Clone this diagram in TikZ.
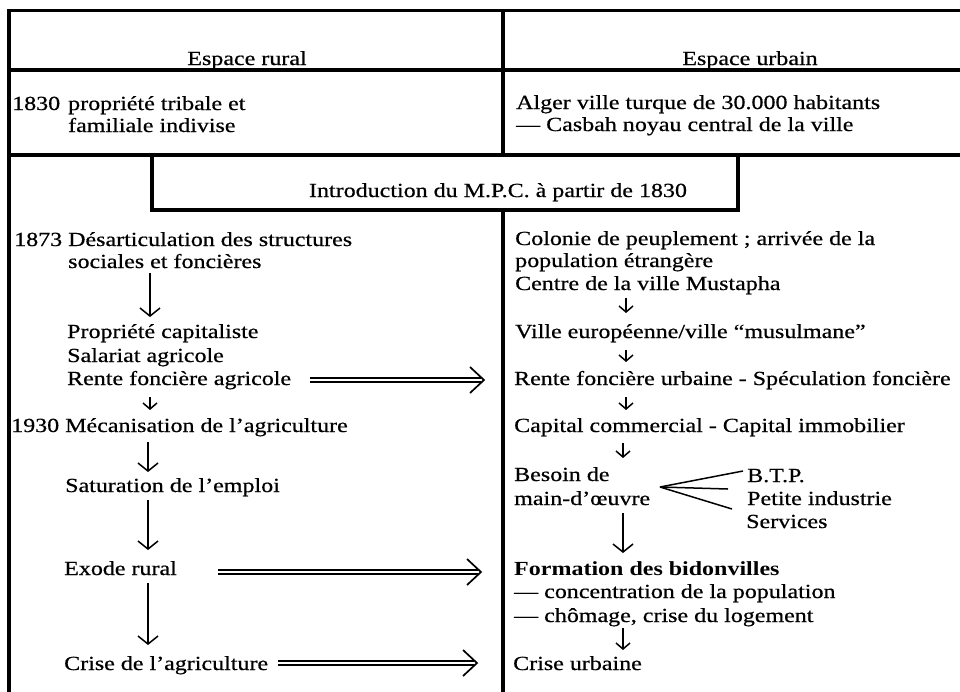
\documentclass[tikz,border=0pt]{standalone}
\usepackage{fontspec}
\setmainfont{Liberation Serif}[FakeStretch=1.2, UprightFeatures={FakeBold=0.6}]
\usetikzlibrary{arrows.meta,calc}
\tikzset{
  txt/.style={inner sep=0pt, anchor=base west, font=\fontsize{20}{23}\selectfont},
  ctxt/.style={txt, anchor=base},
  frame/.style={line width=3.4pt},
  arr/.style={line width=1.5pt, -{Straight Barb[length=8pt,width=20pt,line width=1.5pt]}},
  sarr/.style={line width=1.5pt, -{Straight Barb[length=6pt,width=14pt,line width=1.5pt]}},
  dbl/.style={double, double distance=2.6pt, line width=1.6pt},
  barb/.style={line width=1.7pt},
  fork/.style={line width=1.5pt}
}
\begin{document}
\begin{tikzpicture}[x=1pt,y=-1pt]
\useasboundingbox (0,0) rectangle (960,691);
% frame / table
\draw[frame] (7,10.5) -- (965,10.5);
\draw[frame] (9,9) -- (9,700);
\draw[frame] (9,70) -- (965,70);
\draw[frame] (9,155) -- (965,155);
\draw[frame] (503,10) -- (503,155);
\draw[frame] (152,155) -- (152,210) -- (738,210) -- (738,155);
\draw[frame] (503,210) -- (503,700);
% headers
\node[ctxt] (hr) at (247,65) {Espace rural};
\node[ctxt] (hu) at (750,65) {Espace urbain};
% row 1830
\node[txt] (y1830) at (12,110) {1830};
\node[txt] (trib1) at (68,110) {propriété tribale et};
\node[txt] (trib2) at (68,132) {familiale indivise};
\node[txt] (alg1) at (516,109) {Alger ville turque de 30.000 habitants};
\node[txt] (alg2) at (516,131) {— Casbah noyau central de la ville};
% intro
\node[ctxt] (intro) at (498,197) {Introduction du M.P.C. à partir de 1830};
% left column
\node[txt] (y1873) at (14,246) {1873};
\node[txt] (des1) at (68,246) {Désarticulation des structures};
\node[txt] (des2) at (68,268) {sociales et foncières};
\node[txt] (prop) at (67,338) {Propriété capitaliste};
\node[txt] (sal) at (67,362) {Salariat agricole};
\node[txt] (rente) at (67,385) {Rente foncière agricole};
\node[txt] (y1930) at (11,432) {1930};
\node[txt] (meca) at (65,432) {Mécanisation de l’agriculture};
\node[txt] (satu) at (65,492) {Saturation de l’emploi};
\node[txt] (exode) at (64,575) {Exode rural};
\node[txt] (crag) at (64,670) {Crise de l’agriculture};
% right column
\node[txt] (col1) at (515,245) {Colonie de peuplement ; arrivée de la};
\node[txt] (col2) at (515,267) {population étrangère};
\node[txt] (cen) at (515,290) {Centre de la ville Mustapha};
\node[txt] (ville) at (515,338) {Ville européenne/ville “musulmane”};
\node[txt] (rurb) at (514,385) {Rente foncière urbaine - Spéculation foncière};
\node[txt] (capi) at (514,432) {Capital commercial - Capital immobilier};
\node[txt] (bes1) at (514,481) {Besoin de};
\node[txt] (bes2) at (514,505) {main-d’œuvre};
\node[txt] (btp) at (747,482) {B.T.P.};
\node[txt] (pind) at (747,505) {Petite industrie};
\node[txt] (serv) at (746,528) {Services};
\node[txt, font=\fontsize{20}{23}\selectfont\bfseries] (form) at (514,575) {Formation des bidonvilles};
\node[txt] (conc) at (514,598) {— concentration de la population};
\node[txt] (chom) at (514,622) {— chômage, crise du logement};
\node[txt] (crurb) at (513,670) {Crise urbaine};
% arrow x positions
\coordinate (lx1) at (150,0);
\coordinate (lx2) at (148,0);
\coordinate (rx1) at (626,0);
\coordinate (rx2) at (623,0);
% left arrows
\draw[arr] ($(des2.base -| lx1)+(0,5)$) -- ($(prop.base -| lx1)+(0,-21)$);
\draw[sarr] ($(rente.base -| lx1)+(0,12)$) -- ($(meca.base -| lx1)+(0,-22)$);
\draw[arr] ($(meca.base -| lx2)+(0,10)$) -- ($(satu.base -| lx2)+(0,-20)$);
\draw[arr] ($(satu.base -| lx2)+(0,8)$) -- ($(exode.base -| lx2)+(0,-25)$);
\draw[arr] ($(exode.base -| lx2)+(0,8)$) -- ($(crag.base -| lx2)+(0,-25)$);
% right arrows
\draw[sarr] ($(cen.base -| rx1)+(0,8)$) -- ($(ville.base -| rx1)+(0,-25)$);
\draw[sarr] ($(ville.base -| rx1)+(0,12)$) -- ($(rurb.base -| rx1)+(0,-23)$);
\draw[sarr] ($(rurb.base -| rx1)+(0,12)$) -- ($(capi.base -| rx1)+(0,-22)$);
\draw[sarr] ($(capi.base -| rx2)+(0,11)$) -- ($(bes1.base -| rx2)+(0,-23)$);
\draw[arr] ($(bes2.base -| rx2)+(0,8)$) -- ($(form.base -| rx2)+(0,-22)$);
\draw[sarr] ($(chom.base -| rx2)+(0,6)$) -- ($(crurb.base -| rx2)+(0,-20)$);
% fork
\coordinate (apex) at (660,487);
\draw[fork] (apex) -- (743,471);
\draw[fork] (apex) -- (728,489);
\draw[fork] (apex) -- (732,509);
% double arrows
\coordinate (d1s) at (310,380); \coordinate (d1e) at (484,380);
\coordinate (d2s) at (218,572); \coordinate (d2e) at (481,572);
\coordinate (d3s) at (278,663); \coordinate (d3e) at (477,663);
\foreach \s/\e in {d1s/d1e,d2s/d2e,d3s/d3e}{
  \draw[dbl] (\s) -- ($(\e)+(-3,0)$);
  \draw[barb] ($(\e)+(-14,-13)$) -- (\e) -- ($(\e)+(-14,13)$);
}
\end{tikzpicture}
\end{document}
